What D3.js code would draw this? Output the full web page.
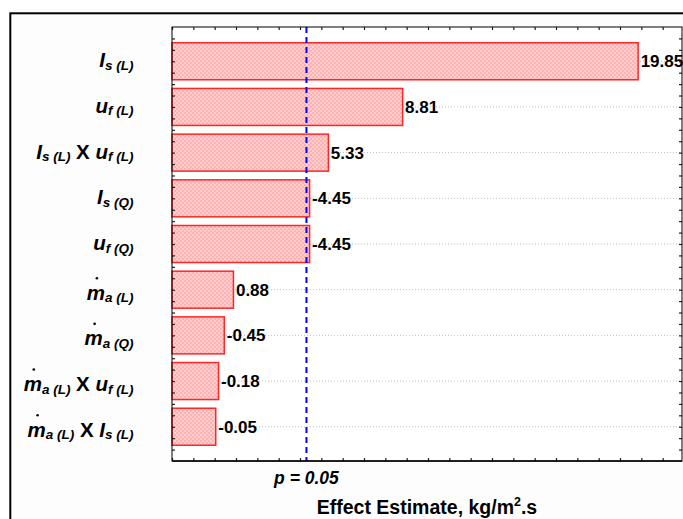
<!DOCTYPE html>
<html><head><meta charset="utf-8">
<script src="https://cdn.jsdelivr.net/npm/d3@7"></script>
<style>
html,body{margin:0;padding:0;background:#fff;}
svg{display:block;font-family:"Liberation Sans",Arial,sans-serif;}
</style></head>
<body>
<svg id="chart" width="683" height="519"></svg>
<script>
// ---- data ----
// label segments: [text, kind]  kind: "m" = main italic, "s" = subscript italic, "x" = upright main, "d" = main with dot above
const factorLabels = [
  [["I","m"],["s (L)","s"]],
  [["u","m"],["f (L)","s"]],
  [["I","m"],["s (L)","s"],[" X ","x"],["u","m"],["f (L)","s"]],
  [["I","m"],["s (Q)","s"]],
  [["u","m"],["f (Q)","s"]],
  [["m","d"],["a (L)","s"]],
  [["m","d"],["a (Q)","s"]],
  [["m","d"],["a (L)","s"],[" X ","x"],["u","m"],["f (L)","s"]],
  [["m","d"],["a (L)","s"],[" X ","x"],["I","m"],["s (L)","s"]]
];
const effectValues = [19.85, 8.81, 5.33, -4.45, -4.45, 0.88, -0.45, -0.18, -0.05];
const effectLabels = ["19.85","8.81","5.33","-4.45","-4.45","0.88","-0.45","-0.18","-0.05"];
const pCritical = 4.303;
const pLabel = "p = 0.05";
const xTitle = "Effect Estimate, kg/m";
const xTitleSup = "2";
const xTitleEnd = ".s";
const xDomain = [-2, 22];
const yDomain = [0.25, 9.75];

// ---- layout ----
const svg = d3.select("#chart");
const L = 172, R = 684, T = 27, B = 461, plotRight = 682;

const x = d3.scaleLinear().domain(xDomain).range([L, R]);
const y = d3.scaleLinear().domain(yDomain).range([T, B]);
const barH = y(1.81) - y(1);

// outer frame
svg.append("rect").attr("x",10.3).attr("y",13.3).attr("width",800).attr("height",700)
  .attr("fill","#fdfdfd").attr("stroke","#000").attr("stroke-width",2);

// pattern
const defs = svg.append("defs");
const pat = defs.append("pattern").attr("id","chk").attr("patternUnits","userSpaceOnUse")
  .attr("width",4).attr("height",4);
pat.append("rect").attr("width",4).attr("height",4).attr("fill","#ffcfcf");
pat.append("rect").attr("width",2).attr("height",2).attr("fill","#ffb0b0");
pat.append("rect").attr("x",2).attr("y",2).attr("width",2).attr("height",2).attr("fill","#ffb0b0");

// plot area
svg.append("rect").attr("x",L).attr("y",T).attr("width",plotRight-L).attr("height",B-T)
  .attr("fill","#fff");

const idx = d3.range(effectValues.length);

// gridlines
svg.append("g").selectAll("line").data(idx).join("line")
  .attr("x1",L).attr("x2",plotRight)
  .attr("y1",i=>y(i+1)).attr("y2",i=>y(i+1))
  .attr("stroke","#bdbdbd").attr("stroke-width",1).attr("stroke-dasharray","1,2");

// bars
svg.append("g").selectAll("rect").data(idx).join("rect")
  .attr("x",x(xDomain[0]))
  .attr("y",i=>y(i+1)-barH/2)
  .attr("width",i=>x(Math.abs(effectValues[i]))-x(xDomain[0]))
  .attr("height",barH)
  .attr("fill","url(#chk)").attr("stroke","#ff2626").attr("stroke-width",1.5);

// value labels
svg.append("g").selectAll("text").data(idx).join("text")
  .attr("x",i=>x(Math.abs(effectValues[i]))+2.5)
  .attr("y",i=>y(i+1)+6)
  .attr("font-size",17).attr("font-weight","bold").attr("fill","#000")
  .text(i=>effectLabels[i]);

// p line
svg.append("line").attr("x1",x(pCritical)).attr("x2",x(pCritical))
  .attr("y1",T).attr("y2",B)
  .attr("stroke","#0000ff").attr("stroke-width",2).attr("stroke-dasharray","6,4");

// axes ticks
const xt = d3.range(xDomain[0], xDomain[1]+0.001, 1);
const yt = d3.range(0.5, 9.501, 0.25);
const axB = d3.axisBottom(x).tickValues(xt).tickSizeInner(-3).tickSizeOuter(0).tickFormat("");
const axT = d3.axisTop(x).tickValues(xt).tickSizeInner(-3).tickSizeOuter(0).tickFormat("");
const axLf = d3.axisLeft(y).tickValues(yt).tickSizeInner(-3).tickSizeOuter(0).tickFormat("");
const axRt = d3.axisRight(y).tickValues(yt).tickSizeInner(-3).tickSizeOuter(0).tickFormat("");
[[axB,`translate(0,${B})`],[axT,`translate(0,${T})`],[axLf,`translate(${L},0)`],[axRt,`translate(${plotRight},0)`]]
 .forEach(([a,t])=>{
   const g = svg.append("g").attr("transform",t).call(a);
   g.select(".domain").remove();
   g.selectAll("line").attr("stroke","#222").attr("stroke-width",1.2);
 });

// plot border
svg.append("rect").attr("x",L).attr("y",T).attr("width",plotRight-L).attr("height",B-T)
  .attr("fill","none").attr("stroke","#000").attr("stroke-width",1);
svg.append("line").attr("x1",L).attr("x2",plotRight).attr("y1",B).attr("y2",B)
  .attr("stroke","#000").attr("stroke-width",1.6);

// factor labels
const labG = svg.append("g");
factorLabels.forEach((segs,i)=>{
  const hasDot = segs.some(s=>s[1]==="d");
  const base = y(i+1) + (hasDot ? 10 : 6);
  const t = labG.append("text").attr("x",133.5).attr("y",base)
    .attr("text-anchor","end").attr("font-weight","bold").attr("fill","#000");
  let shifted = false;
  let charPos = 0, dotIdx = -1;
  segs.forEach(([txt,kind])=>{
    const ts = t.append("tspan").text(txt);
    if(kind==="s"){
      ts.attr("font-size",13.5).attr("font-style","italic");
      if(!shifted){ ts.attr("dy",2.5); shifted = true; }
    } else {
      ts.attr("font-size",20.5).attr("font-style", kind==="x" ? "normal" : "italic");
      if(shifted){ ts.attr("dy",-2.5); shifted = false; }
      if(kind==="d") dotIdx = charPos;
    }
    charPos += txt.length;
  });
  if(dotIdx>=0){
    const node = t.node();
    const s = node.getStartPositionOfChar(dotIdx);
    const e = node.getEndPositionOfChar(dotIdx);
    labG.append("circle").attr("cx",(s.x+e.x)/2+1).attr("cy",base-21.5).attr("r",1.3).attr("fill","#000");
  }
});

// p label
svg.append("text").attr("x",x(pCritical)).attr("y",484).attr("text-anchor","middle")
  .attr("font-size",17.5).attr("font-weight","bold").attr("font-style","italic").text(pLabel);

// x title
const tt = svg.append("text").attr("x",(L+plotRight)/2).attr("y",514).attr("text-anchor","middle")
  .attr("font-size",19.5).attr("font-weight","bold");
tt.append("tspan").text(xTitle);
tt.append("tspan").attr("font-size",12.5).attr("dy",-8).text(xTitleSup);
tt.append("tspan").attr("dy",8).text(xTitleEnd);
</script>
</body></html>
